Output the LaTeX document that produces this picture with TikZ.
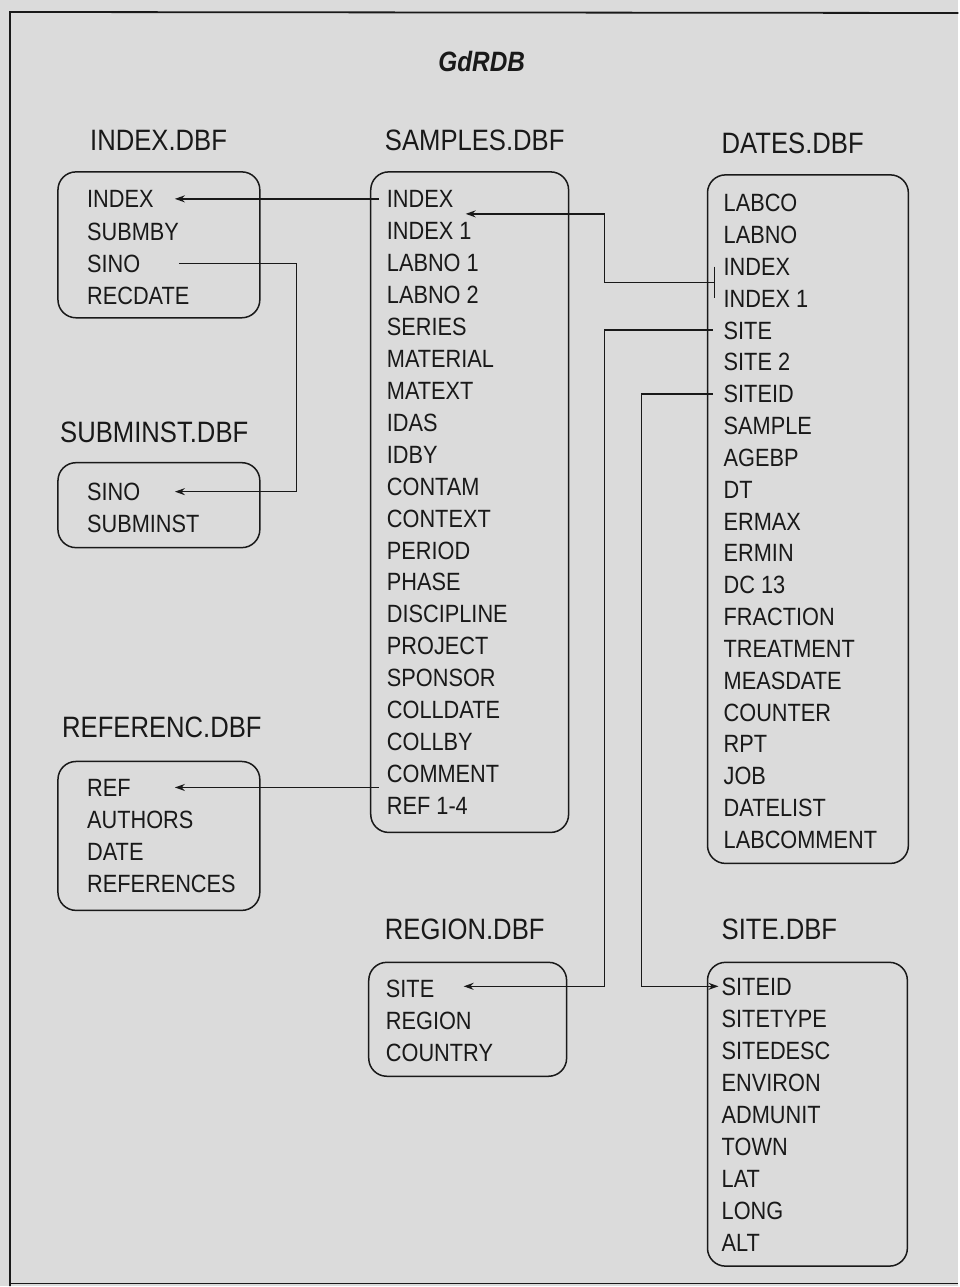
\documentclass[tikz,border=0pt]{standalone}
\usepackage{fontspec}
\setmainfont{Liberation Sans}[FakeStretch=0.87]
\usetikzlibrary{arrows.meta,calc}
\definecolor{paper}{gray}{0.86}
\definecolor{ink}{gray}{0.1}
\begin{document}
\begin{tikzpicture}[x=1pt,y=-1pt,
  field/.style={anchor=west,inner sep=0pt,text height=18pt,text depth=0pt,font=\fontsize{25}{25}\selectfont,text=ink},
  dbtitle/.style={anchor=west,inner sep=0pt,text height=21pt,text depth=0pt,font=\fontsize{29.5}{30}\selectfont,text=ink},
  maintitle/.style={inner sep=0pt,text height=20pt,text depth=0pt,font=\fontsize{28}{28}\selectfont\bfseries\itshape,text=ink},
  table/.style={draw=ink,line width=1.5pt,rounded corners=18pt,inner sep=0pt},
  link/.style={draw=ink,line width=1.4pt},
  arr/.style={link,-{Stealth[length=10pt,width=7pt]}},
  frame/.style={draw=ink,line width=1.8pt}
]
% background and page frame
\fill[paper] (0,0) rectangle (959,1287);
\coordinate (fTL) at (10,12);
\coordinate (fTR) at (959,13);
\coordinate (fBL) at (10,1287);
\coordinate (bBL) at (10,1284);
\coordinate (bBR) at (959,1284);
\draw[frame] (fTR) -- (fTL) -- (fBL);
\draw[frame,line width=1.2pt] (bBL) -- (bBR);

% title
\node[maintitle] (gd) at (482,62) {GdRDB};

% table titles
\node[dbtitle] (tI) at (90,140) {INDEX.DBF};
\node[dbtitle] (tS) at (385,140) {SAMPLES.DBF};
\node[dbtitle] (tD) at (722,143) {DATES.DBF};
\node[dbtitle] (tU) at (60,432) {SUBMINST.DBF};
\node[dbtitle] (tF) at (62,728) {REFERENC.DBF};
\node[dbtitle] (tR) at (385,930) {REGION.DBF};
\node[dbtitle] (tT) at (722,930) {SITE.DBF};

% table boxes
\node[table,minimum width=202pt,minimum height=146pt] (bI) at (159,245) {};
\node[table,minimum width=202pt,minimum height=85pt] (bU) at (159,505.5) {};
\node[table,minimum width=198pt,minimum height=661pt] (bS) at (470,502.5) {};
\node[table,minimum width=201pt,minimum height=689pt] (bD) at (808.5,519.5) {};
\node[table,minimum width=202pt,minimum height=149pt] (bF) at (159,836.5) {};
\node[table,minimum width=198pt,minimum height=114pt] (bR) at (468,1020) {};
\node[table,minimum width=200pt,minimum height=304pt] (bT) at (808,1115) {};

% fields
\foreach \t [count=\i from 0] in {INDEX,SUBMBY,SINO,RECDATE}
  \node[field] (i\i) at (87,199+32.3*\i) {\t};
\foreach \t [count=\i from 0] in {SINO,SUBMINST}
  \node[field] (u\i) at (87,492+32*\i) {\t};
\foreach \t [count=\i from 0] in {INDEX,INDEX 1,LABNO 1,LABNO 2,SERIES,MATERIAL,MATEXT,IDAS,IDBY,CONTAM,CONTEXT,PERIOD,PHASE,DISCIPLINE,PROJECT,SPONSOR,COLLDATE,COLLBY,COMMENT,REF 1-4}
  \node[field] (s\i) at (387,199+31.95*\i) {\t};
\foreach \t [count=\i from 0] in {LABCO,LABNO,INDEX,INDEX 1,SITE,SITE 2,SITEID,SAMPLE,AGEBP,DT,ERMAX,ERMIN,DC 13,FRACTION,TREATMENT,MEASDATE,COUNTER,RPT,JOB,DATELIST,LABCOMMENT}
  \node[field] (d\i) at (724,203+31.85*\i) {\t};
\foreach \t [count=\i from 0] in {REF,AUTHORS,DATE,REFERENCES}
  \node[field] (f\i) at (87,788+32*\i) {\t};
\foreach \t [count=\i from 0] in {SITE,REGION,COUNTRY}
  \node[field] (r\i) at (386,989+32*\i) {\t};
\foreach \t [count=\i from 0] in {SITEID,SITETYPE,SITEDESC,ENVIRON,ADMUNIT,TOWN,LAT,LONG,ALT}
  \node[field] (t\i) at (722,987+32*\i) {\t};

% helper x positions for connector routes
\coordinate (xTipL) at (175,0);
\coordinate (xSinoR) at (297,0);
\coordinate (xSinoS) at (179,0);
\coordinate (xSampS) at (379,0);
\coordinate (xTipS) at (466,0);
\coordinate (xRun1) at (605,0);
\coordinate (xRun2) at (642,0);
\coordinate (xBar) at (715,0);
\coordinate (xDatS) at (713,0);
\coordinate (xTipR) at (464,0);
\coordinate (xTipT) at (719,0);

% SAMPLES.INDEX -> INDEX.INDEX
\draw[arr] (xSampS |- s0) -- (xTipL |- i0);
% INDEX.SINO -> SUBMINST.SINO
\draw[arr] (xSinoS |- i2) -- (xSinoR |- i2) -- (xSinoR |- u0) -- (xTipL |- u0);
% SAMPLES.COMMENT -> REFERENC.REF
\draw[arr] (xSampS |- f0) -- (xTipL |- f0);
% DATES.INDEX/INDEX 1 -> SAMPLES.INDEX/INDEX 1
\coordinate (dMid) at ($(xBar |- d2)!0.5!(xBar |- d3)$);
\coordinate (sMid) at ($(xTipS |- s0)!0.47!(xTipS |- s1)$);
\draw[link] (xBar |- d2) -- (xBar |- d3);
\draw[arr] (dMid) -- (xRun1 |- dMid) -- (xRun1 |- sMid) -- (sMid);
% DATES.SITE -> REGION.SITE
\draw[arr] (xDatS |- d4) -- (xRun1 |- d4) -- (xRun1 |- t0) -- (xTipR |- t0);
% DATES.SITEID -> SITE.SITEID
\draw[arr] (xDatS |- d6) -- (xRun2 |- d6) -- (xRun2 |- t0) -- (xTipT |- t0);
\end{tikzpicture}
\end{document}
